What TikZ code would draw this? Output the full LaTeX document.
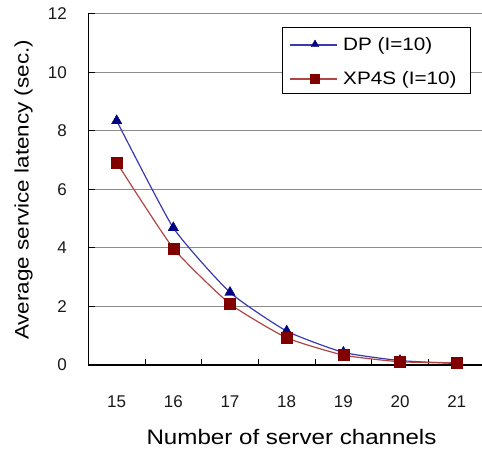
\documentclass[tikz,border=0pt]{standalone}
\usepackage{fontspec}
\setmainfont{Liberation Sans}
\newfontfamily\widefont[FakeStretch=1.15]{Liberation Sans}
\usetikzlibrary{shapes.geometric}
\definecolor{dpblue}{HTML}{000080}
\definecolor{dpline}{HTML}{3A3AB0}
\definecolor{xpred}{HTML}{800000}
\definecolor{xpline}{HTML}{B04545}
\definecolor{gridgray}{HTML}{8C8C8C}
\begin{document}
\begin{tikzpicture}[x=1pt,y=1pt,
  gridline/.style={draw=gridgray, line width=1pt},
  axisline/.style={draw=black, line width=1.2pt},
  tickmark/.style={draw=black, line width=1pt},
  ticklab/.style={font=\fontsize{17}{17}\selectfont, text=black!90, inner sep=0pt},
  dpcurve/.style={draw=dpline, line width=1.2pt},
  xpcurve/.style={draw=xpline, line width=1.2pt},
  dpmark/.style={regular polygon, regular polygon sides=3, fill=dpblue, draw=dpblue, inner sep=0pt, minimum size=#1},
  dpmark/.default=12pt,
  xpmark/.style={rectangle, fill=xpred, draw=xpred, inner sep=0pt, minimum size=#1},
  xpmark/.default=11pt,
  legtext/.style={font=\widefont\fontsize{18}{18}\selectfont, anchor=west, inner sep=0pt}
]
\useasboundingbox (0,0) rectangle (482,455);
\clip (0,0) rectangle (482,455);

% gridlines
\foreach \yy in {148.5,207,265.5,324,382.5,441}
  \draw[gridline] (88.3,\yy) -- (482,\yy);
% y ticks (inward)
\foreach \yy in {148.5,207,265.5,324,382.5,441}
  \draw[tickmark] (88.3,\yy) -- (95,\yy);
% axes
\coordinate (o) at (88.3,90);
\coordinate (ytop) at (88.3,441);
\coordinate (xend) at (482,90);
\draw[axisline] (ytop) -- (o) -- (xend);
% x ticks (inward)
\foreach \xx in {145,201.7,258.4,315,371.7,428.4}
  \draw[tickmark] (\xx,90) -- (\xx,96);

% y tick labels
\foreach \v/\yy in {0/90,2/148.5,4/207,6/265.5,8/324,10/382.5,12/441}
  \node[ticklab, anchor=east] (yl\v) at (67,\yy) {\v};
% x tick labels
\foreach \c/\xx in {15/116.7,16/173.3,17/230,18/286.7,19/343.4,20/400,21/456.7}
  \node[ticklab, anchor=base] (xl\c) at (\xx,47.5) {\c};

% axis titles
\node[font=\widefont\fontsize{21}{21}\selectfont, anchor=base, inner sep=0pt] (xtitle) at (291.5,10) {Number of server channels};
\node[font=\widefont\fontsize{19.5}{19.5}\selectfont, anchor=base, rotate=90, inner sep=0pt] (ytitle) at (28.5,265) {Average service latency (sec.)};

% data
\coordinate (d15) at (116.7,334.2);
\coordinate (d16) at (173.3,227.2);
\coordinate (d17) at (230,162.5);
\coordinate (d18) at (286.7,123.9);
\coordinate (d19) at (343.4,102.6);
\coordinate (d20) at (400,94.4);
\coordinate (d21) at (456.7,91.5);
\coordinate (p15) at (116.7,292.4);
\coordinate (p16) at (173.3,206.7);
\coordinate (p17) at (230,151.1);
\coordinate (p18) at (286.7,117.2);
\coordinate (p19) at (343.4,99.9);
\coordinate (p20) at (400,93.2);
\coordinate (p21) at (456.7,92.3);

\draw[dpcurve] plot[smooth, tension=0.3] coordinates {(d15) (d16) (d17) (d18) (d19) (d20) (d21)};
\draw[xpcurve] plot[smooth, tension=0.3] coordinates {(p15) (p16) (p17) (p18) (p19) (p20) (p21)};
\foreach \c in {15,...,21}
  \node[dpmark] (md\c) at (d\c) {};
\foreach \c in {15,...,21}
  \node[xpmark] (mp\c) at (p\c) {};

% legend
\node[draw=black, line width=1.2pt, fill=white, minimum width=188.3pt, minimum height=66pt, inner sep=0pt, anchor=south west] (legend) at (281.7,360.7) {};
\coordinate (la1) at (290,410);
\coordinate (lb1) at (337,410);
\coordinate (la2) at (290,376);
\coordinate (lb2) at (337,376);
\draw[dpcurve] (la1) -- (lb1);
\draw[xpcurve] (la2) -- (lb2);
\node[dpmark=9pt] (ld) at (315,410.5) {};
\node[xpmark=9pt] (lx) at (315,376) {};
\node[legtext] (tdp) at (343,409.5) {DP (I=10)};
\node[legtext] (txp) at (343,375.5) {XP4S (I=10)};
\end{tikzpicture}
\end{document}
